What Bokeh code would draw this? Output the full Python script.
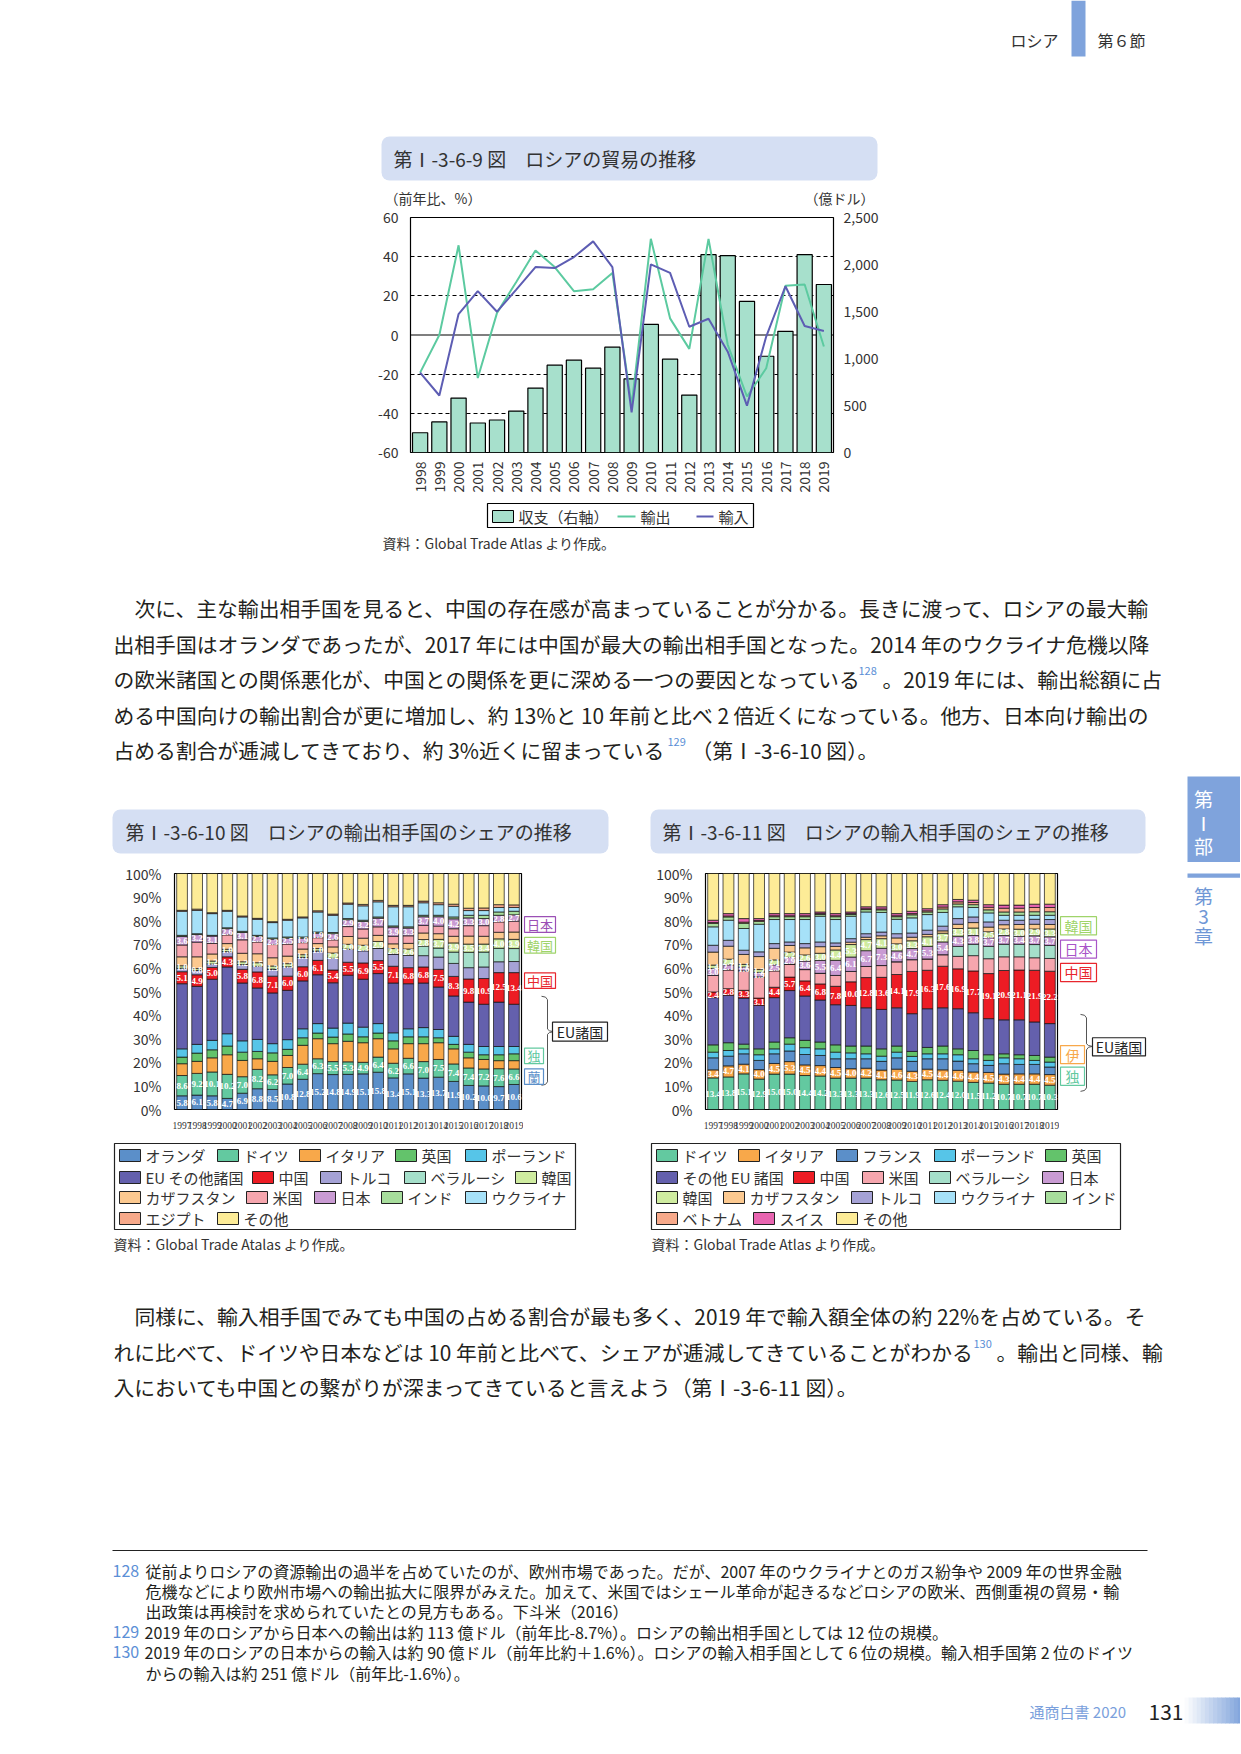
import math
import numpy as np
from bokeh.plotting import figure
from bokeh.layouts import column, row
from bokeh.models import Range1d, LinearAxis, FixedTicker, FactorRange, Span, ColumnDataSource, Quad
from bokeh.core.properties import value
from bokeh.embed import file_html
from bokeh.resources import INLINE

FONT = "Noto Sans CJK JP"
NARROW = "Liberation Sans Narrow"
INK = "#333333"
BODY = "#231f20"
LINKBLUE = "#5b8fd6"

# ---------------- Figure I-3-6-9 : trade ----------------
trade_years = [str(y) for y in range(1998, 2020)]
trade_balance = [210, 325, 579, 314, 346, 441, 685, 929, 982, 897, 1120, 784, 1363, 993, 611, 2105, 2094, 1607, 1024, 1289, 2105, 1787]
export_growth = [-19.2, 0.0, 45.8, -22.0, 11.3, 27.1, 43.2, 34.7, 22.4, 23.4, 31.7, -36.0, 49.1, 8.5, -7.1, 49.1, -5.0, -31.4, -17.0, 25.1, 25.8, -5.9]
import_growth = [-19.2, -30.9, 10.7, 22.4, 11.9, 23.2, 34.7, 34.2, 39.8, 47.8, 34.7, -39.5, 36.1, 31.7, 4.2, 8.3, -8.5, -36.1, -0.8, 24.9, 4.6, 2.0]
left_ticks = [-60, -40, -20, 0, 20, 40, 60]
right_ticks = [0, 500, 1000, 1500, 2000, 2500]
right_tick_labels = ["0", "500", "1,000", "1,500", "2,000", "2,500"]

# ---------------- Figure I-3-6-10 : export partners (%) ----------------
share_years = [str(y) for y in range(1997, 2020)]
exp_names = ["オランダ", "ドイツ", "イタリア", "英国", "ポーランド", "EU その他諸国", "中国", "トルコ", "ベラルーシ",
             "韓国", "カザフスタン", "米国", "日本", "インド", "ウクライナ", "エジプト", "その他"]
exp_netherlands = [5.8, 6.1, 5.8, 4.7, 6.9, 8.8, 8.5, 10.8, 12.8, 15.2, 14.8, 14.9, 15.1, 15.8, 13.4, 15.1, 13.3, 13.7, 11.9, 10.2, 10.0, 9.7, 10.6]
exp_germany = [8.6, 9.2, 10.1, 10.2, 7.0, 8.2, 6.2, 7.0, 6.4, 6.3, 5.5, 5.3, 4.9, 6.4, 6.2, 6.6, 7.0, 7.5, 7.4, 7.4, 7.2, 7.6, 6.6]
exp_italy = [5.0, 5.1, 6.0, 8.3, 6.9, 4.5, 5.7, 5.1, 8.0, 8.5, 7.6, 8.7, 8.3, 7.8, 6.1, 6.2, 7.6, 7.1, 6.4, 4.3, 4.0, 3.4, 3.5]
exp_uk = [2.8, 3.5, 3.4, 3.7, 3.5, 3.1, 3.6, 2.6, 3.2, 2.4, 2.8, 3.1, 2.5, 2.4, 3.4, 2.9, 2.9, 2.1, 1.9, 2.4, 2.0, 2.5, 2.9]
exp_poland = [3.5, 3.7, 4.0, 5.2, 4.8, 5.1, 3.9, 4.1, 3.8, 4.0, 3.8, 4.6, 4.1, 4.0, 3.4, 3.4, 3.9, 3.5, 3.4, 3.3, 3.5, 3.5, 3.1]
exp_eu_other = [27.6, 24.6, 25.9, 28.3, 24.5, 21.8, 21.5, 20.9, 20.3, 20.7, 19.2, 20.3, 20.3, 21.2, 21.1, 19.1, 18.9, 18.0, 17.1, 17.9, 17.9, 18.8, 17.9]
exp_china = [5.1, 4.9, 5.0, 4.3, 5.8, 6.8, 7.1, 6.0, 6.0, 6.1, 5.4, 5.5, 6.9, 5.5, 7.1, 6.8, 6.8, 7.5, 8.3, 9.8, 10.9, 12.5, 13.4]
exp_turkey = [1.5, 1.8, 1.5, 2.2, 2.0, 2.4, 3.0, 4.0, 4.0, 4.0, 5.0, 5.6, 5.2, 5.2, 5.2, 5.3, 4.8, 5.2, 5.5, 4.8, 4.9, 4.6, 4.7]
exp_belarus = [0, 0, 0, 0, 0, 0, 0, 0, 0, 0, 0, 0, 0, 0, 0, 0, 4.0, 3.8, 4.8, 6.5, 6.3, 5.7, 5.5]
exp_korea = [1.0, 0.8, 1.2, 1.0, 1.2, 1.5, 1.3, 1.3, 1.1, 1.0, 2.2, 2.0, 2.3, 2.9, 2.3, 2.6, 2.8, 3.7, 3.9, 3.5, 3.4, 4.0, 3.9]
exp_kazakhstan = [3.8, 5.0, 3.0, 2.4, 3.6, 3.8, 3.5, 3.2, 2.4, 2.1, 2.6, 3.3, 3.0, 2.6, 2.0, 2.4, 2.8, 2.4, 2.8, 3.4, 3.3, 2.8, 3.1]
exp_usa = [5.0, 6.2, 4.5, 3.7, 5.7, 5.0, 5.6, 5.1, 2.7, 2.5, 3.0, 4.2, 3.9, 3.6, 3.2, 3.2, 3.2, 3.2, 3.2, 4.4, 4.5, 4.4, 4.6]
exp_japan = [3.6, 3.2, 3.1, 2.6, 3.1, 2.3, 2.3, 2.5, 1.9, 1.9, 2.6, 2.9, 3.2, 3.7, 3.9, 3.3, 3.7, 4.0, 4.2, 3.3, 3.0, 2.8, 2.7]
exp_india = [0.5, 0.4, 0.3, 0.4, 0.5, 0.5, 0.5, 0.5, 0.5, 0.5, 0.5, 0.5, 0.5, 0.5, 0.5, 0.5, 0.6, 0.6, 0.8, 1.1, 1.4, 1.4, 1.5]
exp_ukraine = [10.2, 9.9, 9.2, 7.0, 6.1, 6.8, 6.5, 7.1, 8.1, 8.5, 7.3, 6.1, 6.1, 6.4, 8.1, 8.5, 5.3, 4.5, 4.5, 2.0, 2.0, 1.9, 1.6]
exp_egypt = [0.4, 0.5, 0.4, 0.4, 0.4, 0.4, 0.4, 0.4, 0.4, 0.5, 0.5, 0.5, 0.6, 0.6, 0.6, 0.6, 0.7, 0.8, 0.9, 1.0, 1.1, 1.2, 1.1]
exp_other = [15.6, 15.1, 16.6, 15.6, 18.0, 19.0, 20.4, 19.4, 18.4, 15.8, 17.2, 12.5, 13.1, 11.4, 13.5, 13.5, 11.7, 12.4, 13.0, 14.7, 14.6, 13.2, 13.3]
exp_series = [exp_netherlands, exp_germany, exp_italy, exp_uk, exp_poland, exp_eu_other, exp_china, exp_turkey,
              exp_belarus, exp_korea, exp_kazakhstan, exp_usa, exp_japan, exp_india, exp_ukraine, exp_egypt, exp_other]
exp_colors = ["#5b8fc9", "#63c9a0", "#f8a84a", "#63c36b", "#56c5e8", "#6460ad", "#ed1c24", "#a5a2d6", "#a5dfca",
              "#cfeca0", "#fcc990", "#f6a6ae", "#c99bd3", "#a7dd9c", "#a6e1f8", "#f7a98a", "#fdec97"]
exp_labelled = [0, 1, 6, 9, 12]

# ---------------- Figure I-3-6-11 : import partners (%) ----------------
imp_names = ["ドイツ", "イタリア", "フランス", "ポーランド", "英国", "その他 EU 諸国", "中国", "米国", "ベラルーシ", "日本",
             "韓国", "カザフスタン", "トルコ", "ウクライナ", "インド", "ベトナム", "スイス", "その他"]
imp_germany = [13.4, 13.8, 15.1, 12.9, 15.0, 15.0, 14.4, 14.2, 13.3, 13.3, 13.3, 12.6, 12.5, 11.9, 12.6, 12.4, 12.0, 11.5, 11.2, 10.7, 10.7, 10.7, 10.3]
imp_italy = [3.4, 4.7, 4.1, 4.0, 4.5, 5.3, 4.5, 4.4, 4.5, 4.0, 4.2, 4.1, 4.6, 4.3, 4.5, 4.4, 4.6, 4.4, 4.5, 4.3, 4.4, 4.4, 4.5]
imp_france = [5.1, 4.1, 4.4, 3.9, 4.1, 4.5, 4.4, 4.3, 3.7, 4.2, 4.0, 3.7, 4.8, 4.2, 4.4, 4.7, 3.9, 3.5, 3.0, 4.4, 4.0, 4.0, 3.2]
imp_poland = [2.4, 2.4, 2.1, 2.4, 2.1, 2.9, 2.9, 2.8, 2.8, 2.5, 2.1, 2.2, 2.4, 2.1, 2.1, 2.1, 2.7, 2.1, 2.1, 2.5, 2.4, 1.7, 2.1]
imp_uk = [3.1, 3.3, 2.0, 2.5, 2.9, 2.7, 3.1, 2.9, 3.1, 2.9, 3.3, 3.1, 2.6, 2.1, 2.7, 3.3, 2.5, 3.5, 2.4, 1.7, 1.7, 2.1, 2.1]
imp_eu_other = [20.0, 20.1, 19.5, 18.4, 18.8, 20.0, 18.8, 17.8, 17.0, 17.2, 16.2, 16.7, 16.2, 16.0, 16.4, 16.2, 17.0, 16.0, 15.3, 14.4, 14.8, 14.2, 14.2]
imp_china = [2.4, 2.8, 3.3, 3.1, 4.4, 5.7, 6.4, 6.8, 7.8, 10.0, 12.8, 13.6, 14.1, 17.9, 16.3, 17.6, 16.9, 17.7, 19.1, 20.9, 21.1, 21.9, 22.2]
imp_usa = [7.0, 8.0, 8.3, 9.0, 7.0, 5.5, 4.8, 4.5, 4.6, 4.4, 4.7, 5.0, 5.4, 5.0, 4.8, 4.9, 5.3, 6.5, 6.3, 5.8, 5.6, 5.3, 5.4]
imp_belarus = [0, 0, 0, 0, 0, 0, 0, 0, 0, 0, 0, 0, 0, 0, 0, 0, 4.2, 4.8, 5.2, 5.3, 5.3, 5.6, 5.5]
imp_japan = [3.0, 2.1, 1.6, 1.9, 2.5, 2.9, 3.6, 5.5, 6.4, 6.1, 6.7, 7.3, 4.6, 4.7, 5.3, 5.4, 4.3, 3.8, 3.7, 3.7, 3.4, 3.7, 3.7]
imp_korea = [1.4, 2.4, 1.1, 1.2, 2.1, 2.2, 2.6, 3.0, 4.4, 5.3, 4.7, 4.1, 3.0, 3.3, 4.1, 3.7, 3.3, 3.1, 2.5, 2.8, 3.0, 2.9, 3.3]
imp_kazakhstan = [5.5, 5.5, 4.2, 5.5, 4.9, 2.8, 3.0, 2.8, 1.5, 1.0, 1.0, 1.2, 2.5, 1.5, 1.0, 1.0, 1.8, 2.3, 2.0, 1.8, 2.0, 2.0, 1.9]
imp_turkey = [2.9, 2.5, 1.8, 2.0, 2.0, 1.5, 1.8, 2.0, 1.5, 1.5, 1.5, 1.6, 1.8, 1.8, 1.8, 2.0, 2.4, 2.4, 2.2, 1.9, 1.8, 2.1, 2.1]
imp_ukraine = [7.8, 8.5, 9.2, 11.7, 10.2, 9.5, 10.2, 10.9, 9.9, 9.5, 9.2, 8.3, 6.1, 6.4, 6.6, 5.8, 5.0, 4.0, 3.8, 2.1, 2.1, 1.7, 1.8]
imp_india = [1.5, 1.4, 2.2, 1.2, 1.2, 1.2, 1.2, 0.8, 1.2, 0.8, 1.0, 1.1, 1.1, 1.3, 1.1, 1.5, 1.2, 1.2, 1.3, 1.4, 1.4, 1.5, 1.5]
imp_vietnam = [0.3, 0.4, 0.5, 0.4, 0.4, 0.4, 0.4, 0.3, 0.4, 0.3, 0.4, 0.4, 0.4, 0.5, 0.5, 0.8, 0.9, 0.9, 1.1, 1.6, 1.6, 1.8, 1.8]
imp_swiss = [1.0, 1.0, 1.5, 0.8, 0.9, 0.9, 0.9, 0.7, 0.9, 0.7, 0.8, 0.9, 0.9, 1.0, 0.9, 1.0, 1.0, 1.0, 1.1, 1.3, 1.3, 1.4, 1.4]
imp_other = [19.8, 17.0, 19.1, 19.1, 17.0, 17.0, 17.0, 16.3, 17.0, 16.3, 14.1, 14.1, 17.0, 16.0, 14.9, 13.2, 11.0, 11.3, 13.2, 13.4, 13.4, 13.0, 13.0]
imp_series = [imp_germany, imp_italy, imp_france, imp_poland, imp_uk, imp_eu_other, imp_china, imp_usa, imp_belarus,
              imp_japan, imp_korea, imp_kazakhstan, imp_turkey, imp_ukraine, imp_india, imp_vietnam, imp_swiss, imp_other]
imp_colors = ["#63c9a0", "#f8a84a", "#5b8fc9", "#56c5e8", "#63c36b", "#6460ad", "#ed1c24", "#f6a6ae", "#a5dfca",
              "#c99bd3", "#cfeca0", "#fcc990", "#a5a2d6", "#a6e1f8", "#a7dd9c", "#f7a98a", "#e864b0", "#fdec97"]
imp_labelled = [0, 1, 6, 9, 10]

HAS_RADIUS = "border_radius" in Quad.properties()

# ---------------- page canvases (page pixel coordinates; page has no margin) ----------------
BOUNDS = {
    "A": (0, 1240, 0, 207),
    "BL": (0, 375, 207, 495),
    "BR": (890, 1240, 207, 495),
    "C": (0, 1240, 495, 862),
    "DL": (0, 122, 862, 1135),
    "DM": (523, 650, 862, 1135),
    "DR": (1059, 1240, 862, 1135),
    "E": (0, 1240, 1135, 1752),
}


def make_canvas(b):
    x0, x1, y0, y1 = b
    p = figure(width=x1 - x0, height=y1 - y0, x_range=Range1d(x0, x1), y_range=Range1d(y1, y0),
               x_axis_location=None, y_axis_location=None, output_backend="svg",
               toolbar_location=None, min_border=0)
    p.grid.visible = False
    p.outline_line_color = None
    p.background_fill_color = "white"
    p.border_fill_color = "white"
    return p


canv = {k: make_canvas(b) for k, b in BOUNDS.items()}


def owner(x, y):
    for k, (x0, x1, y0, y1) in BOUNDS.items():
        if x0 <= x < x1 and y0 <= y < y1:
            return canv[k]
    return None


def overlapping(l, r, t, b):
    out = []
    for k, (x0, x1, y0, y1) in BOUNDS.items():
        if l < x1 and r > x0 and t < y1 and b > y0:
            out.append(canv[k])
    return out


def put_text(x, y, s, size=15, color=INK, align="left", font=FONT, style="normal"):
    p = owner(x, y)
    if p is None:
        return
    p.text(x=[x], y=[y], text=[s], text_font=value(font), text_font_size=f"{size}px",
           text_color=color, text_align=align, text_baseline="middle", text_font_style=style)


def put_box(l, r, t, b, fill=None, line=None, lw=1.0, radius=0):
    for p in overlapping(l, r, t, b):
        kw = {}
        if HAS_RADIUS and radius:
            kw["border_radius"] = radius
        p.quad(left=[l], right=[r], top=[t], bottom=[b], fill_color=fill, line_color=line, line_width=lw, **kw)


def put_line(xs, ys, color="#444444", width=1.0):
    for p in overlapping(min(xs), max(xs) + 0.1, min(ys), max(ys) + 0.1):
        p.line(x=xs, y=ys, line_color=color, line_width=width)


# header
put_text(1010, 39, "ロシア", size=16)
put_box(1071, 1085, 0, 56, fill="#7fa3dc", line=None)
put_text(1097, 39, "第６節", size=16)

# figure 1 title + units
put_box(381, 877, 136, 180, fill="#d5dff3", line=None, radius=8)
put_text(393, 158, "第Ⅰ-3-6-9 図　ロシアの貿易の推移", size=19)
put_text(384, 197, "（前年比、%）", size=14)
put_text(874, 197, "（億ドル）", size=14, align="right")

# figure 1 legend + source
put_box(487, 753, 503, 527, fill="white", line="black", lw=1.2)
put_box(492, 513, 510, 522, fill="#a7e0cc", line="black", lw=1)
put_text(518, 516, "収支（右軸）", size=15)
put_line([617, 635], [516, 516], color="#5ccaa0", width=2)
put_text(640, 516, "輸出", size=15)
put_line([696, 713], [516, 516], color="#5d5db3", width=2)
put_text(718, 516, "輸入", size=15)
put_text(382, 542, "資料：Global Trade Atlas より作成。", size=14)

# paragraph 1
BS = 20.8
put_text(134, 607, "次に、主な輸出相手国を見ると、中国の存在感が高まっていることが分かる。長きに渡って、ロシアの最大輸", size=BS, color=BODY)
put_text(113, 643, "出相手国はオランダであったが、2017 年には中国が最大の輸出相手国となった。2014 年のウクライナ危機以降", size=BS, color=BODY)
put_text(113, 678, "の欧米諸国との関係悪化が、中国との関係を更に深める一つの要因となっている", size=BS, color=BODY)
put_text(858, 670, "128", size=11, color=LINKBLUE)
put_text(882, 678, "。2019 年には、輸出総額に占", size=BS, color=BODY)
put_text(113, 714, "める中国向けの輸出割合が更に増加し、約 13%と 10 年前と比べ 2 倍近くになっている。他方、日本向け輸出の", size=BS, color=BODY)
put_text(113, 749, "占める割合が逓減してきており、約 3%近くに留まっている", size=BS, color=BODY)
put_text(667, 741, "129", size=11, color=LINKBLUE)
put_text(691, 749, "（第Ⅰ-3-6-10 図）。", size=BS, color=BODY)

# figure 2 / 3 titles
put_box(112, 608, 809, 853, fill="#d5dff3", line=None, radius=8)
put_text(125, 831, "第Ⅰ-3-6-10 図　ロシアの輸出相手国のシェアの推移", size=19)
put_box(650, 1145, 809, 853, fill="#d5dff3", line=None, radius=8)
put_text(662, 831, "第Ⅰ-3-6-11 図　ロシアの輸入相手国のシェアの推移", size=19)

# side tab
put_box(1187, 1250, 776, 867, fill="#7fa3dc", line=None)
put_text(1203, 798, "第", size=19, color="white", align="center")
put_text(1203, 822, "Ⅰ", size=19, color="white", align="center")
put_text(1203, 845, "部", size=19, color="white", align="center")
put_text(1203, 888, "第", size=19, color="#6f97d6", align="center")
put_text(1203, 912, "3", size=19, color="#6f97d6", align="center")
put_text(1203, 934, "章", size=19, color="#6f97d6", align="center")


def tag(l, r, t, b, s, color, size=13):
    put_box(l, r, t, b, fill="white", line=color, lw=1.2)
    put_text((l + r) / 2, (t + b) / 2, s, size=size, color=color, align="center")


# figure 2 side tags
tag(524, 555, 912, 930, "日本", "#9b4fb5")
tag(524, 555, 936, 954, "韓国", "#9fd46a")
tag(524, 555, 977, 995, "中国", "#e8262d")
put_line([541, 545, 547, 547, 549, 553, 549, 547, 547, 545, 541],
         [1004, 1005, 1008, 1042, 1044, 1045, 1046, 1048, 1103, 1106, 1107], color="#555555")
tag(552, 607, 1034, 1056, "EU諸国", "#222222", size=14)
tag(524, 543, 1064, 1082, "独", "#63c9a0")
tag(524, 543, 1088, 1106, "蘭", "#5b8fc9")

# figure 3 side tags
tag(1060, 1096, 912, 933, "韓国", "#9fd46a", size=14)
tag(1060, 1096, 939, 960, "日本", "#a855c8", size=14)
tag(1060, 1096, 966, 987, "中国", "#e8262d", size=14)
put_line([1080, 1084, 1086, 1086, 1088, 1092, 1088, 1086, 1086, 1084, 1080],
         [1025, 1026, 1029, 1059, 1061, 1062, 1063, 1066, 1110, 1113, 1114], color="#555555")
tag(1092, 1145, 1052, 1073, "EU諸国", "#222222", size=14)
tag(1060, 1084, 1061, 1082, "伊", "#f8a84a", size=14)
tag(1060, 1084, 1086, 1107, "独", "#63c9a0", size=14)

# legends of figure 2 and 3
put_box(114, 575, 1143, 1229, fill="white", line="#222222", lw=1.2)
exp_legend_pos = [(119, 1155), (217, 1155), (299, 1155), (395, 1155), (465, 1155),
                  (119, 1177), (252, 1177), (320, 1177), (404, 1177), (515, 1177),
                  (119, 1197), (246, 1197), (314, 1197), (381, 1197), (465, 1197),
                  (119, 1218), (217, 1218)]
for (lx, ly), nm, col in zip(exp_legend_pos, exp_names, exp_colors):
    put_box(lx, lx + 21, ly - 6, ly + 6, fill=col, line="#222222", lw=1)
    put_text(lx + 26, ly, nm, size=15)
put_text(113, 1243, "資料：Global Trade Atalas より作成。", size=14)

put_box(651, 1120, 1143, 1229, fill="white", line="#222222", lw=1.2)
imp_legend_pos = [(656, 1155), (738, 1155), (836, 1155), (934, 1155), (1045, 1155),
                  (656, 1177), (793, 1177), (862, 1177), (929, 1177), (1042, 1177),
                  (656, 1197), (723, 1197), (851, 1197), (934, 1197), (1045, 1197),
                  (656, 1218), (753, 1218), (836, 1218)]
for (lx, ly), nm, col in zip(imp_legend_pos, imp_names, imp_colors):
    put_box(lx, lx + 21, ly - 6, ly + 6, fill=col, line="#222222", lw=1)
    put_text(lx + 26, ly, nm, size=15)
put_text(651, 1243, "資料：Global Trade Atlas より作成。", size=14)

# paragraph 2
put_text(134, 1315, "同様に、輸入相手国でみても中国の占める割合が最も多く、2019 年で輸入額全体の約 22%を占めている。そ", size=BS, color=BODY)
put_text(113, 1351, "れに比べて、ドイツや日本などは 10 年前と比べて、シェアが逓減してきていることがわかる", size=BS, color=BODY)
put_text(973, 1343, "130", size=11, color=LINKBLUE)
put_text(996, 1351, "。輸出と同様、輸", size=BS, color=BODY)
put_text(113, 1386, "入においても中国との繋がりが深まってきていると言えよう（第Ⅰ-3-6-11 図）。", size=BS, color=BODY)

# footnotes
put_line([112, 1147], [1550, 1550], color="#222222", width=1.2)
FS = 16
put_text(112, 1570, "128", size=FS, color=LINKBLUE)
put_text(145, 1570, "従前よりロシアの資源輸出の過半を占めていたのが、欧州市場であった。だが、2007 年のウクライナとのガス紛争や 2009 年の世界金融", size=FS, color=BODY)
put_text(145, 1590, "危機などにより欧州市場への輸出拡大に限界がみえた。加えて、米国ではシェール革命が起きるなどロシアの欧米、西側重視の貿易・輸", size=FS, color=BODY)
put_text(145, 1610, "出政策は再検討を求められていたとの見方もある。下斗米（2016）", size=FS, color=BODY)
put_text(112, 1631, "129", size=FS, color=LINKBLUE)
put_text(144, 1631, "2019 年のロシアから日本への輸出は約 113 億ドル（前年比-8.7%）。ロシアの輸出相手国としては 12 位の規模。", size=FS, color=BODY)
put_text(112, 1651, "130", size=FS, color=LINKBLUE)
put_text(144, 1651, "2019 年のロシアの日本からの輸入は約 90 億ドル（前年比約＋1.6%）。ロシアの輸入相手国として 6 位の規模。輸入相手国第 2 位のドイツ", size=FS, color=BODY)
put_text(145, 1672, "からの輸入は約 251 億ドル（前年比-1.6%）。", size=FS, color=BODY)

# page footer
c0 = np.array([255, 255, 255])
c1 = np.array([127, 163, 220])
nstrip = 14
for i in range(nstrip):
    f = (i + 0.5) / nstrip
    c = (c0 * (1 - f) + c1 * f).astype(int)
    put_box(1184 + i * 57 / nstrip, 1184 + (i + 1) * 57 / nstrip + 0.5, 1697, 1723,
            fill="#%02x%02x%02x" % tuple(c), line=None)
put_text(1029, 1711, "通商白書 2020", size=15, color="#7a9fdc")
put_text(1148, 1711, "131", size=21, color="#222222")


# ---------------- chart helpers ----------------
def style_axis(ax, size="14px", font=FONT, color=INK, standoff=5):
    ax.major_tick_line_color = None
    ax.minor_tick_line_color = None
    ax.axis_line_color = None
    ax.major_label_text_font = font
    ax.major_label_text_font_size = size
    ax.major_label_text_color = color
    ax.major_label_standoff = standoff


# ---------------- Figure 1 ----------------
p1 = figure(width=515, height=288, x_range=FactorRange(*trade_years), y_range=Range1d(-60, 60),
            output_backend="svg", toolbar_location=None,
            min_border_left=34, min_border_right=57, min_border_top=10, min_border_bottom=42)
p1.extra_y_ranges = {"bal": Range1d(0, 2500)}
p1.outline_line_color = "black"
p1.outline_line_width = 1.2
p1.xgrid.visible = False
p1.ygrid.ticker = FixedTicker(ticks=[-40, -20, 20, 40])
p1.ygrid.grid_line_color = "black"
p1.ygrid.grid_line_dash = "4 3"
p1.ygrid.grid_line_width = 1
p1.add_layout(Span(location=0, dimension="width", line_color="black", line_width=1.2, level="underlay"))
p1.vbar(x=trade_years, top=trade_balance, bottom=0, width=0.79, y_range_name="bal",
        fill_color="#a7e0cc", line_color="black", line_width=1.2)
p1.line(x=trade_years, y=export_growth, line_color="#5ccaa0", line_width=2)
p1.line(x=trade_years, y=import_growth, line_color="#5d5db3", line_width=2)
ly = p1.yaxis[0]
ly.ticker = FixedTicker(ticks=left_ticks)
ly.major_label_overrides = {t: str(t) for t in left_ticks}
style_axis(ly, standoff=6)
ry = LinearAxis(y_range_name="bal", ticker=FixedTicker(ticks=right_ticks),
                major_label_overrides={t: s for t, s in zip(right_ticks, right_tick_labels)})
style_axis(ry, standoff=4)
p1.add_layout(ry, "right")
style_axis(p1.xaxis[0], standoff=3)
p1.xaxis.major_label_orientation = math.pi / 2


# ---------------- Figures 2 / 3 ----------------
def share_chart(width, min_left, series, colors, labelled):
    p = figure(width=width, height=273, x_range=FactorRange(*share_years), y_range=Range1d(0, 100),
               output_backend="svg", toolbar_location=None,
               min_border_left=min_left, min_border_right=2, min_border_top=11, min_border_bottom=26)
    data = {"year": share_years}
    keys = []
    for i, s in enumerate(series):
        data[f"s{i}"] = s
        keys.append(f"s{i}")
    src = ColumnDataSource(data)
    p.vbar_stack(keys, x="year", width=0.71, source=src, fill_color=colors,
                 line_color="#111111", line_width=0.7)
    arr = np.array(series, dtype=float)
    cum = arr.cumsum(axis=0)
    for i in labelled:
        centers = cum[i] - arr[i] / 2
        p.text(x=share_years, y=list(centers), text=[f"{v:.1f}" for v in arr[i]],
               text_font=value(NARROW), text_font_size="9px", text_font_style="bold",
               text_color="white", text_align="center", text_baseline="middle")
    p.grid.visible = False
    p.outline_line_color = "black"
    p.outline_line_width = 1.2
    ticks = list(range(0, 101, 10))
    p.yaxis.ticker = FixedTicker(ticks=ticks)
    p.yaxis.major_label_overrides = {t: f"{t}%" for t in ticks}
    style_axis(p.yaxis[0], standoff=7)
    style_axis(p.xaxis[0], size="9.5px", font=NARROW, standoff=6)
    return p


p2 = share_chart(401, 46, exp_series, exp_colors, exp_labelled)
p3 = share_chart(409, 55, imp_series, imp_colors, imp_labelled)

layout = column(
    canv["A"],
    row(canv["BL"], p1, canv["BR"]),
    canv["C"],
    row(canv["DL"], p2, canv["DM"], p3, canv["DR"]),
    canv["E"],
)

open("out.html", "w").write(file_html(layout, INLINE))
